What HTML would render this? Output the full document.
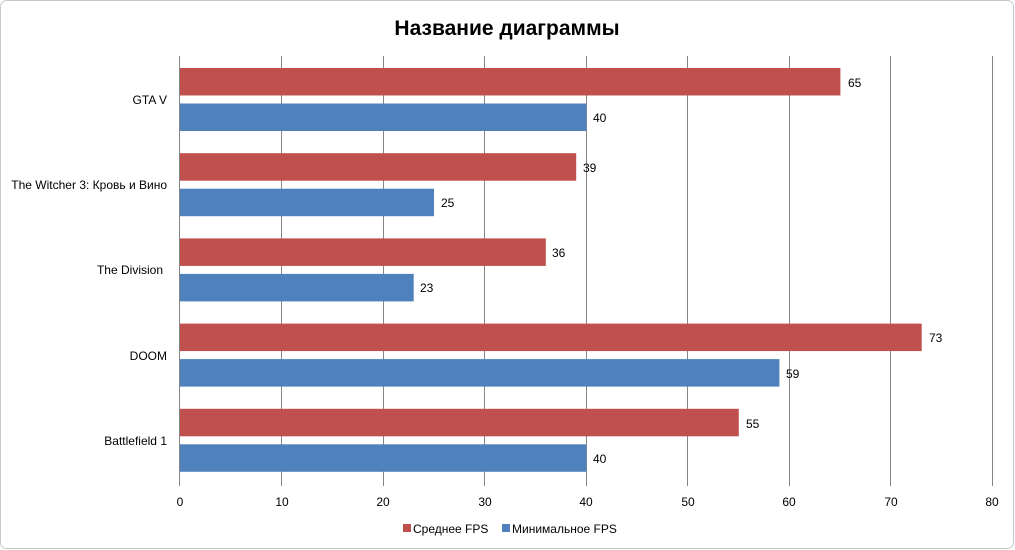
<!DOCTYPE html>
<html><head><meta charset="utf-8"><style>
body{margin:0;background:#fff;}
svg{display:block;font-family:"Liberation Sans","DejaVu Sans",sans-serif;}
</style></head><body>
<svg width="1015" height="550" xmlns="http://www.w3.org/2000/svg">
<rect x="0.5" y="0.5" width="1013" height="548" rx="6" fill="#fff" stroke="#c8c8c8"/>
<text x="507" y="35" text-anchor="middle" font-size="21" font-weight="bold" fill="#000">Название диаграммы</text>
<g stroke="#868686" stroke-width="1">
<line x1="281.5" y1="56" x2="281.5" y2="486"/>
<line x1="383.5" y1="56" x2="383.5" y2="486"/>
<line x1="484.5" y1="56" x2="484.5" y2="486"/>
<line x1="586.5" y1="56" x2="586.5" y2="486"/>
<line x1="687.5" y1="56" x2="687.5" y2="486"/>
<line x1="789.5" y1="56" x2="789.5" y2="486"/>
<line x1="890.5" y1="56" x2="890.5" y2="486"/>
<line x1="992.5" y1="56" x2="992.5" y2="486"/>
<line x1="179.5" y1="56" x2="179.5" y2="486"/>
</g>
<g>
<rect x="180" y="68" width="660.4" height="27.5" fill="#c0504d"/>
<rect x="180" y="103.5" width="406.4" height="27.5" fill="#4f81bd"/>
<rect x="180" y="153.2" width="396.2" height="27.5" fill="#c0504d"/>
<rect x="180" y="188.7" width="254" height="27.5" fill="#4f81bd"/>
<rect x="180" y="238.4" width="365.8" height="27.5" fill="#c0504d"/>
<rect x="180" y="273.9" width="233.7" height="27.5" fill="#4f81bd"/>
<rect x="180" y="323.6" width="741.7" height="27.5" fill="#c0504d"/>
<rect x="180" y="359.1" width="599.4" height="27.5" fill="#4f81bd"/>
<rect x="180" y="408.8" width="558.8" height="27.5" fill="#c0504d"/>
<rect x="180" y="444.3" width="406.4" height="27.5" fill="#4f81bd"/>
</g>
<g font-size="12" fill="#000">
<text x="848" y="87">65</text>
<text x="593" y="122">40</text>
<text x="583" y="172">39</text>
<text x="441" y="207">25</text>
<text x="552" y="257">36</text>
<text x="420" y="292">23</text>
<text x="929" y="342">73</text>
<text x="786" y="378">59</text>
<text x="746" y="428">55</text>
<text x="593" y="463">40</text>
</g>
<g font-size="12" fill="#000" text-anchor="end">
<text x="167" y="104">GTA V</text>
<text x="167" y="189">The Witcher 3: Кровь и Вино</text>
<text x="163" y="274">The Division</text>
<text x="167" y="360">DOOM</text>
<text x="167" y="445">Battlefield 1</text>
</g>
<g font-size="12" fill="#000" text-anchor="middle">
<text x="180" y="506">0</text>
<text x="282" y="506">10</text>
<text x="383" y="506">20</text>
<text x="485" y="506">30</text>
<text x="586" y="506">40</text>
<text x="688" y="506">50</text>
<text x="789" y="506">60</text>
<text x="891" y="506">70</text>
<text x="992" y="506">80</text>
</g>
<rect x="403" y="524" width="8" height="8" fill="#c0504d"/>
<text x="413" y="533" font-size="12">Среднее FPS</text>
<rect x="502" y="524" width="8" height="8" fill="#4f81bd"/>
<text x="512" y="533" font-size="12">Минимальное FPS</text>
</svg>
</body></html>
